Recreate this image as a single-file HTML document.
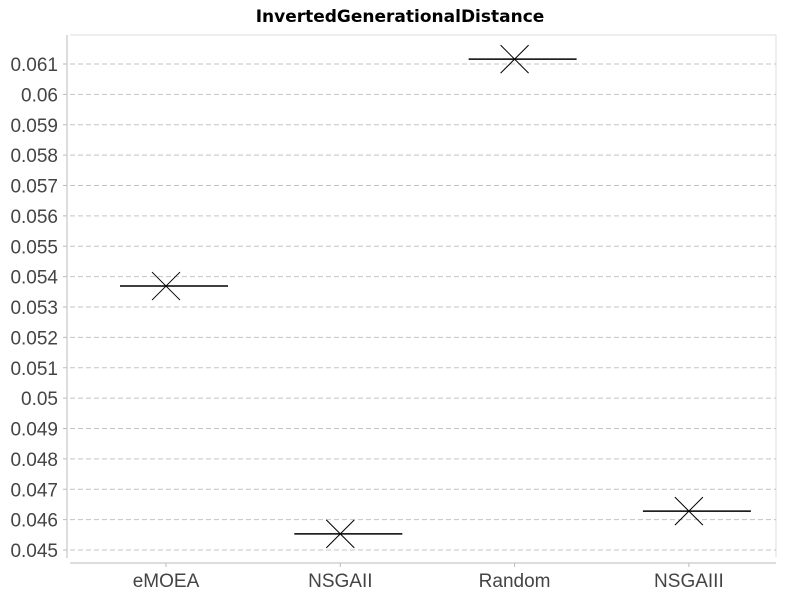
<!DOCTYPE html>
<html><head><meta charset="utf-8"><style>
body{margin:0;background:#fff}
svg{font-family:"Liberation Sans",sans-serif}
</style></head><body>
<svg width="800" height="600">
<text x="400" y="22" text-anchor="middle" font-weight="bold" font-size="17" font-family="DejaVu Sans, sans-serif">InvertedGenerationalDistance</text>
<line x1="70" y1="35" x2="776" y2="35" stroke="#ddd"/>
<line x1="776" y1="35" x2="776" y2="557" stroke="#ddd"/>
<g id="grid"></g>
<line x1="67" y1="35" x2="67" y2="558" stroke="#bbb"/>
<line x1="70" y1="563" x2="776" y2="563" stroke="#bbb"/>
<g id="marks"></g>
</svg>
<script>
const categories=["eMOEA","NSGAII","Random","NSGAIII"];
const values=[0.05369,0.04553,0.06116,0.04628];
const yTicks=[0.045,0.046,0.047,0.048,0.049,0.05,0.051,0.052,0.053,0.054,0.055,0.056,0.057,0.058,0.059,0.06,0.061];
const yTickLabels=["0.045","0.046","0.047","0.048","0.049","0.05","0.051","0.052","0.053","0.054","0.055","0.056","0.057","0.058","0.059","0.06","0.061"];
const NS="http://www.w3.org/2000/svg";
function y(v){return 550-(v-0.045)*30375;}
function x(i){return 166+i*174.3;}
const grid=document.getElementById('grid'),marks=document.getElementById('marks');
function mk(tag,attrs,parent){const e=document.createElementNS(NS,tag);for(const k in attrs)e.setAttribute(k,attrs[k]);parent.appendChild(e);return e;}
yTicks.forEach((t,i)=>{
  const l=mk('line',{x1:70,x2:776,y1:y(t),y2:y(t),stroke:'#c4c4c4','stroke-dasharray':'5,3'},grid);
  
  
  const tk=mk('line',{x1:63,x2:67,y1:y(t),y2:y(t),stroke:'#bbb'},grid);
  
  
  const tx=mk('text',{x:58,y:y(t)+7,'text-anchor':'end','font-size':'19',fill:'#444'},grid);
  tx.textContent=yTickLabels[i];
  
  
});
categories.forEach((c,i)=>{
  const cx=x(i),cy=y(values[i]);
  const tk=mk('line',{x1:cx,x2:cx,y1:563,y2:567,stroke:'#bbb'},marks);
  
  
  const tx=mk('text',{x:cx,y:587,'text-anchor':'middle','font-size':'19',fill:'#444'},marks);
  tx.textContent=c;
  
  
  const m=mk('line',{x1:cx-46,x2:cx+62,y1:cy,y2:cy,stroke:'#000','stroke-width':'1.5'},marks);
  
  
  const g=mk('g',{},marks);
  
  
  mk('line',{x1:cx-14,x2:cx+14,y1:cy-14,y2:cy+14,stroke:'#000'},g);
  mk('line',{x1:cx-14,x2:cx+14,y1:cy+14,y2:cy-14,stroke:'#000'},g);
});
</script>
</body></html>
